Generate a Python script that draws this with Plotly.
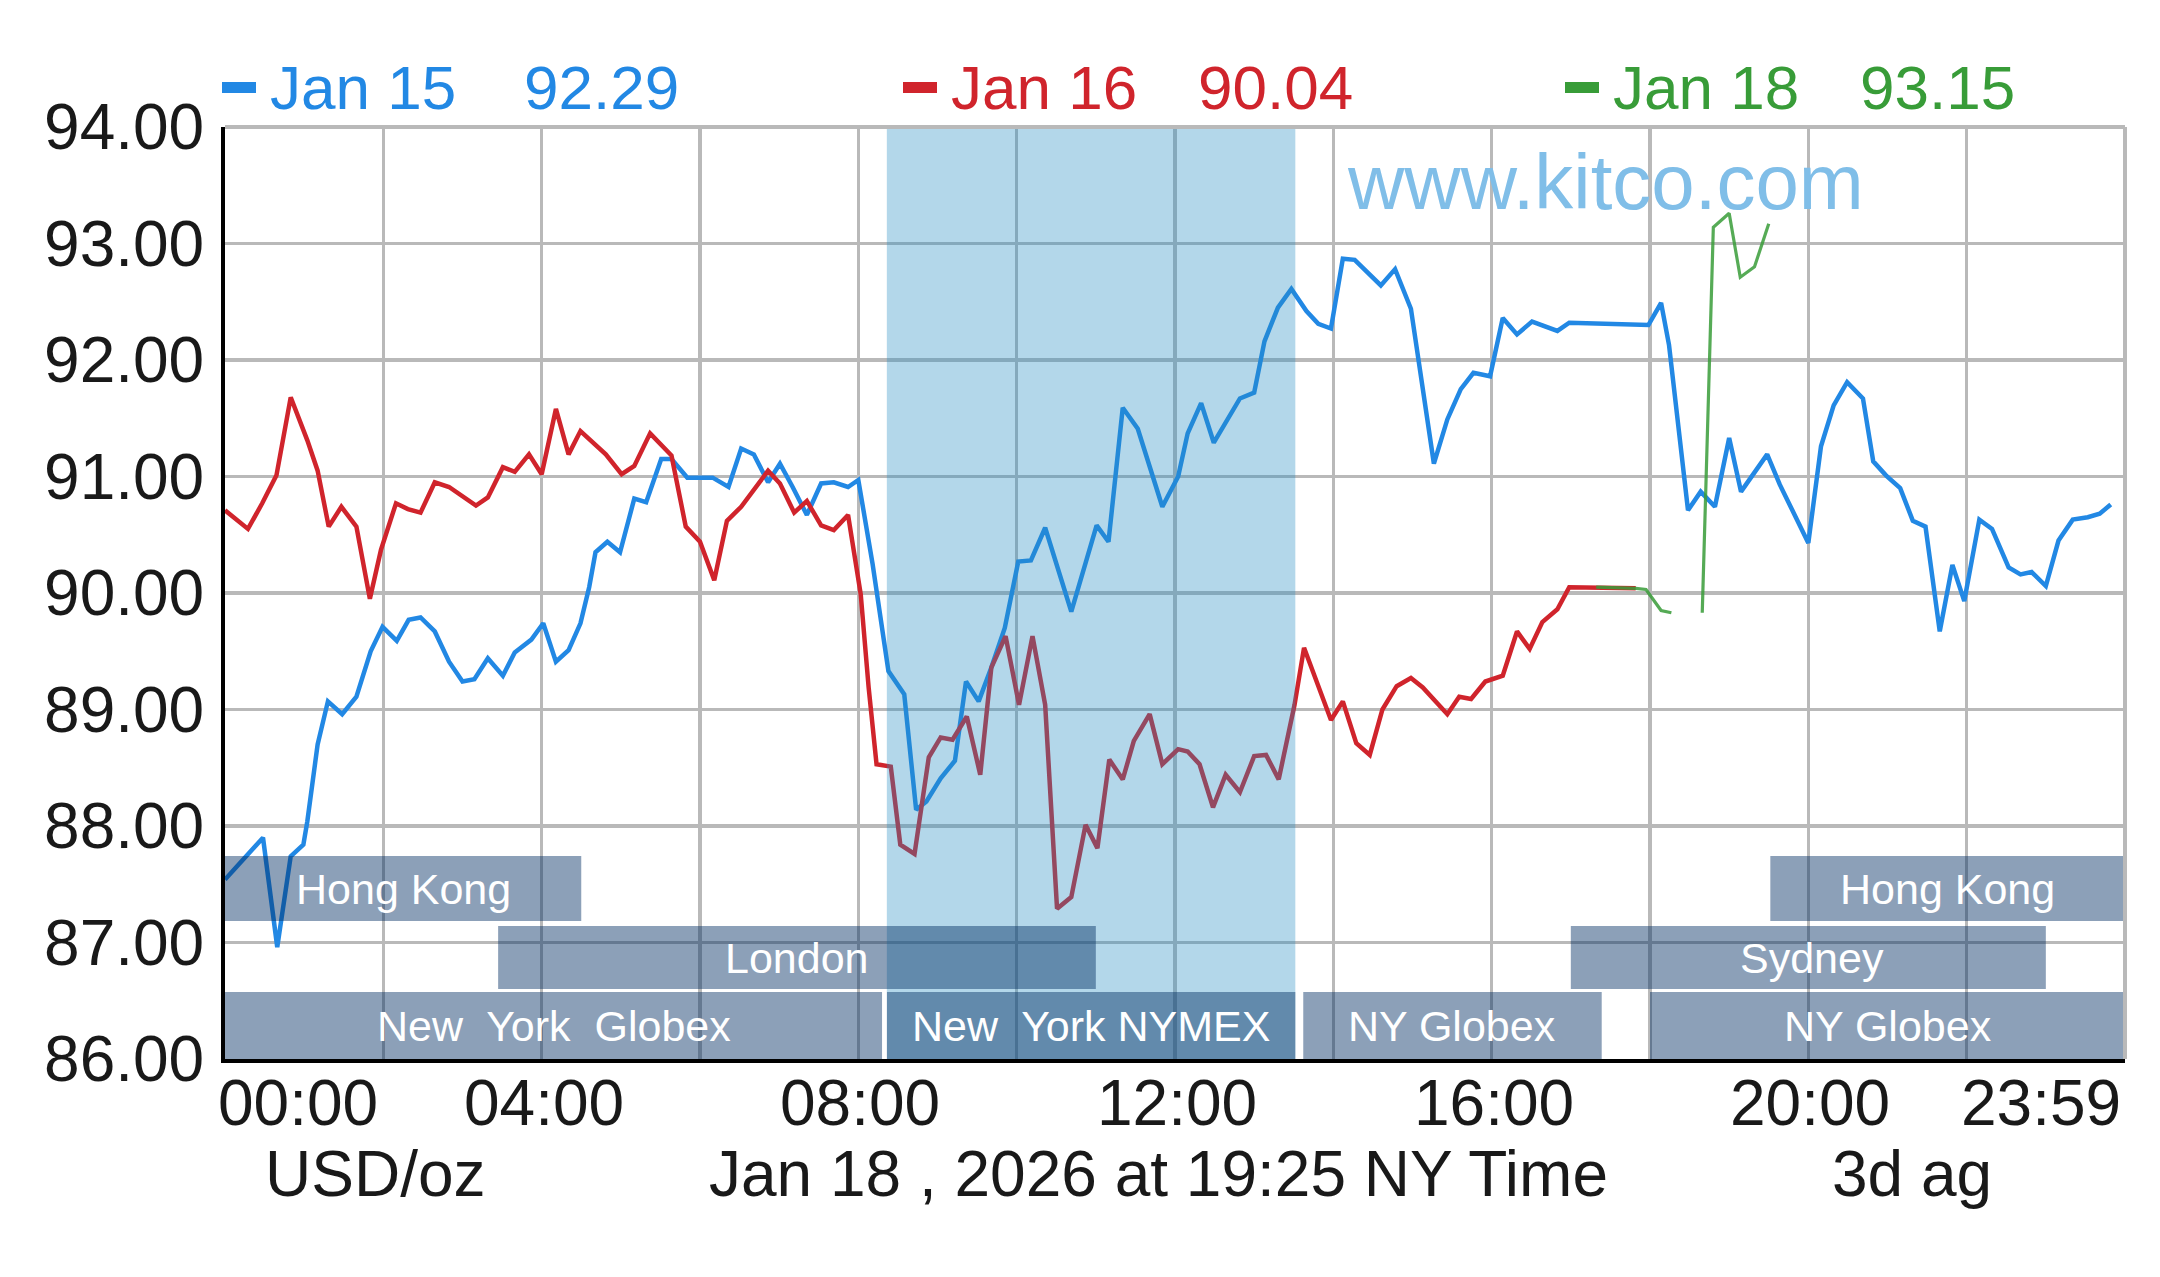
import plotly.graph_objects as go

# ---------------- data ----------------
jan15_hours = [0.0, 0.21, 0.48, 0.66, 0.83, 0.99, 1.04, 1.17, 1.30, 1.48, 1.66, 1.84, 1.99, 2.17, 2.32, 2.47,
               2.65, 2.83, 3.00, 3.15, 3.32, 3.51, 3.66, 3.87, 4.02, 4.18, 4.34, 4.49, 4.60, 4.68, 4.83, 4.99,
               5.17, 5.32, 5.51, 5.64, 5.84, 6.16, 6.36, 6.52, 6.68, 6.86, 7.01, 7.17, 7.35, 7.53, 7.69, 7.87,
               8.00, 8.18, 8.38, 8.58, 8.73, 8.86, 9.04, 9.22, 9.36, 9.52, 9.68, 9.85, 10.02, 10.18, 10.36,
               10.69, 11.01, 11.16, 11.34, 11.53, 11.84, 12.04, 12.16, 12.33, 12.49, 12.82, 13.00, 13.13,
               13.30, 13.47, 13.66, 13.81, 13.97, 14.12, 14.27, 14.60, 14.78, 14.98, 15.27, 15.44, 15.61,
               15.77, 15.98, 16.14, 16.32, 16.51, 16.83, 16.98, 17.98, 18.14, 18.24, 18.48, 18.64, 18.82,
               19.00, 19.15, 19.48, 19.64, 20.00, 20.16, 20.32, 20.49, 20.69, 20.82, 20.98, 21.16, 21.32,
               21.48, 21.66, 21.82, 21.97, 22.16, 22.32, 22.53, 22.68, 22.82, 23.00, 23.16, 23.34, 23.53,
               23.68, 23.82]
jan15_prices = [87.54, 87.70, 87.90, 86.96, 87.74, 87.84, 88.04, 88.70, 89.07, 88.96, 89.11, 89.50, 89.71, 89.59,
                89.77, 89.79, 89.67, 89.41, 89.24, 89.26, 89.44, 89.29, 89.49, 89.60, 89.74, 89.41, 89.51,
                89.74, 90.05, 90.35, 90.44, 90.35, 90.81, 90.78, 91.15, 91.15, 90.99, 90.99, 90.91, 91.24,
                91.19, 90.95, 91.11, 90.91, 90.67, 90.94, 90.95, 90.91, 90.97, 90.25, 89.33, 89.13, 88.14,
                88.21, 88.41, 88.56, 89.24, 89.07, 89.36, 89.70, 90.27, 90.28, 90.56, 89.84, 90.58, 90.44,
                91.59, 91.41, 90.74, 91.00, 91.37, 91.63, 91.29, 91.67, 91.72, 92.16, 92.45, 92.61, 92.42,
                92.31, 92.27, 92.87, 92.86, 92.64, 92.78, 92.44, 91.11, 91.49, 91.75, 91.89, 91.86, 92.36,
                92.22, 92.33, 92.25, 92.32, 92.30, 92.49, 92.13, 90.71, 90.87, 90.74, 91.33, 90.87, 91.19,
                90.93, 90.43, 91.26, 91.61, 91.81, 91.67, 91.13, 91.01, 90.90, 90.62, 90.57, 89.67, 90.24,
                89.93, 90.63, 90.55, 90.22, 90.16, 90.18, 90.06, 90.45, 90.63, 90.65, 90.68, 90.76]

jan16_hours = [0.00, 0.29, 0.47, 0.65, 0.83, 1.04, 1.17, 1.31, 1.47, 1.66, 1.83, 1.97, 2.16, 2.31, 2.47, 2.65,
               2.83, 3.17, 3.32, 3.51, 3.66, 3.84, 4.00, 4.18, 4.34, 4.49, 4.81, 5.01, 5.17, 5.37, 5.64, 5.82,
               6.00, 6.18, 6.34, 6.52, 6.86, 7.01, 7.19, 7.35, 7.53, 7.69, 7.87, 8.03, 8.13, 8.23, 8.41, 8.53,
               8.71, 8.89, 9.04, 9.19, 9.37, 9.54, 9.68, 9.86, 10.03, 10.20, 10.36, 10.51, 10.69, 10.87, 11.02,
               11.17, 11.34, 11.48, 11.68, 11.84, 12.04, 12.16, 12.31, 12.48, 12.64, 12.82, 13.00, 13.15,
               13.31, 13.51, 13.63, 13.79, 13.97, 14.12, 14.29, 14.46, 14.62, 14.80, 14.98, 15.13, 15.44,
               15.59, 15.74, 15.92, 16.14, 16.32, 16.48, 16.64, 16.83, 16.98, 17.82]
jan16_prices = [90.71, 90.55, 90.77, 91.01, 91.68, 91.31, 91.05, 90.57, 90.74, 90.57, 89.95, 90.37, 90.77, 90.72,
                90.69, 90.95, 90.91, 90.75, 90.82, 91.08, 91.04, 91.19, 91.02, 91.58, 91.19, 91.39, 91.19,
                91.02, 91.09, 91.37, 91.18, 90.57, 90.44, 90.11, 90.62, 90.74, 91.05, 90.94, 90.69, 90.79,
                90.58, 90.54, 90.67, 89.99, 89.19, 88.53, 88.51, 87.84, 87.76, 88.59, 88.76, 88.74, 88.94,
                88.44, 89.36, 89.63, 89.04, 89.63, 89.04, 87.29, 87.39, 88.01, 87.81, 88.57, 88.40, 88.73,
                88.96, 88.53, 88.66, 88.64, 88.53, 88.16, 88.44, 88.29, 88.60, 88.61, 88.40, 89.04, 89.53,
                89.24, 88.91, 89.07, 88.71, 88.61, 89.00, 89.20, 89.27, 89.19, 88.96, 89.11, 89.09, 89.24,
                89.29, 89.67, 89.52, 89.75, 89.86, 90.05, 90.04]

jan18_hours = [17.32, 17.82, 17.95, 18.14, 18.27, None, 18.66, 18.80, 19.00, 19.14, 19.32, 19.50]
jan18_prices = [90.05, 90.04, 90.03, 89.85, 89.83, None, 89.83, 93.14, 93.26, 92.71, 92.80, 93.17]

series_names = ["Jan 15", "Jan 16", "Jan 18"]
series_last = ["92.29", "90.04", "93.15"]

y_ticks = [86, 87, 88, 89, 90, 91, 92, 93, 94]
x_grid = [0, 2, 4, 6, 8, 10, 12, 14, 16, 18, 20, 22, 24]
x_label_pos = [0, 4, 8, 12, 16, 20, 24]
x_label_text = ["00:00", "04:00", "08:00", "12:00", "16:00", "20:00", "23:59"]

# sessions: name, start hour, end hour, row (1 = bottom)
sessions = [
    ("Hong Kong", 0.0, 4.5, 3),
    ("London", 3.45, 11.0, 2),
    ("New&nbsp; York&nbsp; Globex", 0.0, 8.3, 1),
    ("New&nbsp; York NYMEX", 8.36, 13.52, 1),
    ("NY Globex", 13.62, 17.39, 1),
    ("NY Globex", 18.0, 24.0, 1),
    ("Sydney", 17.0, 23.0, 2),
    ("Hong Kong", 19.52, 24.0, 3),
]
nymex_window = (8.36, 13.52)

# ---------------- styling / geometry ----------------
W, H = 2160, 1277
L, R, T, B = 225, 2125, 127, 1059
FONT = "Liberation Sans, Arial, sans-serif"
TXT = "rgb(25,25,25)"
BLUE = "rgb(34,136,228)"
RED = "rgb(208,36,44)"
GREEN = "rgb(56,156,56)"


def px(x):
    return (x - L) / (R - L)


def py(y):
    return (B - y) / (B - T)


def price_at(y):
    return 94 - (y - T) / ((B - T) / 8.0)


row_px = {1: (992, 1059), 2: (926, 989), 3: (856, 921)}

fig = go.Figure()
fig.add_trace(go.Scatter(x=jan15_hours, y=jan15_prices, mode="lines",
                         line=dict(color=BLUE, width=4.5), hoverinfo="skip", showlegend=False))
fig.add_trace(go.Scatter(x=jan16_hours, y=jan16_prices, mode="lines",
                         line=dict(color=RED, width=4.5), hoverinfo="skip", showlegend=False))
fig.add_trace(go.Scatter(x=jan18_hours, y=jan18_prices, mode="lines", connectgaps=False,
                         line=dict(color=GREEN, width=3.2), opacity=0.85, hoverinfo="skip", showlegend=False))

shapes = []
# NYMEX shaded window (above lines, translucent)
shapes.append(dict(type="rect", xref="x", yref="paper", x0=nymex_window[0], x1=nymex_window[1],
                   y0=0, y1=1, fillcolor="rgba(38,141,195,0.35)", line=dict(width=0), layer="above"))
annotations = []
for name, s, e, row in sessions:
    y_top, y_bot = row_px[row]
    shapes.append(dict(type="rect", xref="x", yref="y", x0=s, x1=e,
                       y0=price_at(y_bot), y1=price_at(y_top),
                       fillcolor="rgba(0,44,98,0.45)", line=dict(width=0), layer="above"))
    xc = (s + e) / 2
    if name == "Sydney":
        xc = 20.05
    annotations.append(dict(x=xc, y=(price_at(y_bot) + price_at(y_top)) / 2, xref="x", yref="y",
                            text=name, showarrow=False, font=dict(family=FONT, size=43, color="white"),
                            xanchor="center", yanchor="middle"))
# white separators between the row-1 sessions
for hx in [8.33, 13.57]:
    shapes.append(dict(type="line", xref="x", yref="y", x0=hx, x1=hx,
                       y0=price_at(1059), y1=price_at(992), line=dict(color="white", width=4), layer="above"))

# top / right border
shapes.append(dict(type="line", xref="paper", yref="paper", x0=0, x1=1, y0=1, y1=1,
                   line=dict(color="rgb(185,185,185)", width=4)))
shapes.append(dict(type="line", xref="paper", yref="paper", x0=1, x1=1, y0=0, y1=1,
                   line=dict(color="rgb(185,185,185)", width=4)))

# legend row
colors = [BLUE, RED, GREEN]
dash_x = [222, 903, 1565]
name_x = [268, 949, 1611]
val_x = [522, 1196, 1858]
for i in range(3):
    shapes.append(dict(type="rect", xref="paper", yref="paper", x0=px(dash_x[i]), x1=px(dash_x[i] + 34),
                       y0=py(93), y1=py(82), fillcolor=colors[i], line=dict(width=0)))
    annotations.append(dict(x=px(name_x[i]), y=py(87), xref="paper", yref="paper", text=series_names[i],
                            showarrow=False, xanchor="left", yanchor="middle",
                            font=dict(family=FONT, size=62, color=colors[i])))
    annotations.append(dict(x=px(val_x[i]), y=py(87), xref="paper", yref="paper", text=series_last[i],
                            showarrow=False, xanchor="left", yanchor="middle",
                            font=dict(family=FONT, size=62, color=colors[i])))

# watermark
annotations.append(dict(x=px(1605), y=py(182), xref="paper", yref="paper", text="www.kitco.com",
                        showarrow=False, xanchor="center", yanchor="middle",
                        font=dict(family=FONT, size=78, color="rgb(128,190,232)")))

# x-axis time labels (placed on the x scale)
for pos, txt in zip(x_label_pos, x_label_text):
    if pos == 0:
        anchor, shift = "left", -9
    elif pos == 24:
        anchor, shift = "right", -2
    else:
        anchor, shift = "center", 2
    annotations.append(dict(x=pos, y=py(1103), xref="x", yref="paper", text=txt, showarrow=False,
                            xanchor=anchor, yanchor="middle", xshift=shift,
                            font=dict(family=FONT, size=64, color=TXT)))
# bottom caption row
for txt, xc in [("USD/oz", 375), ("Jan 18 , 2026 at 19:25 NY Time", 1158), ("3d ag", 1912)]:
    annotations.append(dict(x=px(xc), y=py(1174), xref="paper", yref="paper", text=txt, showarrow=False,
                            xanchor="center", yanchor="middle",
                            font=dict(family=FONT, size=64, color=TXT)))

fig.update_layout(
    width=W, height=H,
    margin=dict(l=L, r=W - R, t=T, b=H - B, pad=0),
    paper_bgcolor="white", plot_bgcolor="white",
    shapes=shapes, annotations=annotations,
    showlegend=False,
    xaxis=dict(range=[0, 24], tickmode="array", tickvals=x_grid, showticklabels=False,
               showgrid=True, gridcolor="rgb(185,185,185)", gridwidth=3.5, zeroline=False,
               showline=True, linecolor="black", linewidth=4, ticks="", fixedrange=True),
    yaxis=dict(range=[86, 94], tickmode="array", tickvals=y_ticks,
               ticktext=["%.2f" % v for v in y_ticks],
               showgrid=True, gridcolor="rgb(185,185,185)", gridwidth=3.5, zeroline=False,
               showline=True, linecolor="black", linewidth=4, ticks="",
               ticklabelstandoff=4,
               tickfont=dict(family=FONT, size=64, color=TXT), fixedrange=True),
)

fig.write_html("out.html", config={"displayModeBar": False, "staticPlot": True},
               post_script="document.body.style.margin='0';document.body.style.overflow='hidden';")
